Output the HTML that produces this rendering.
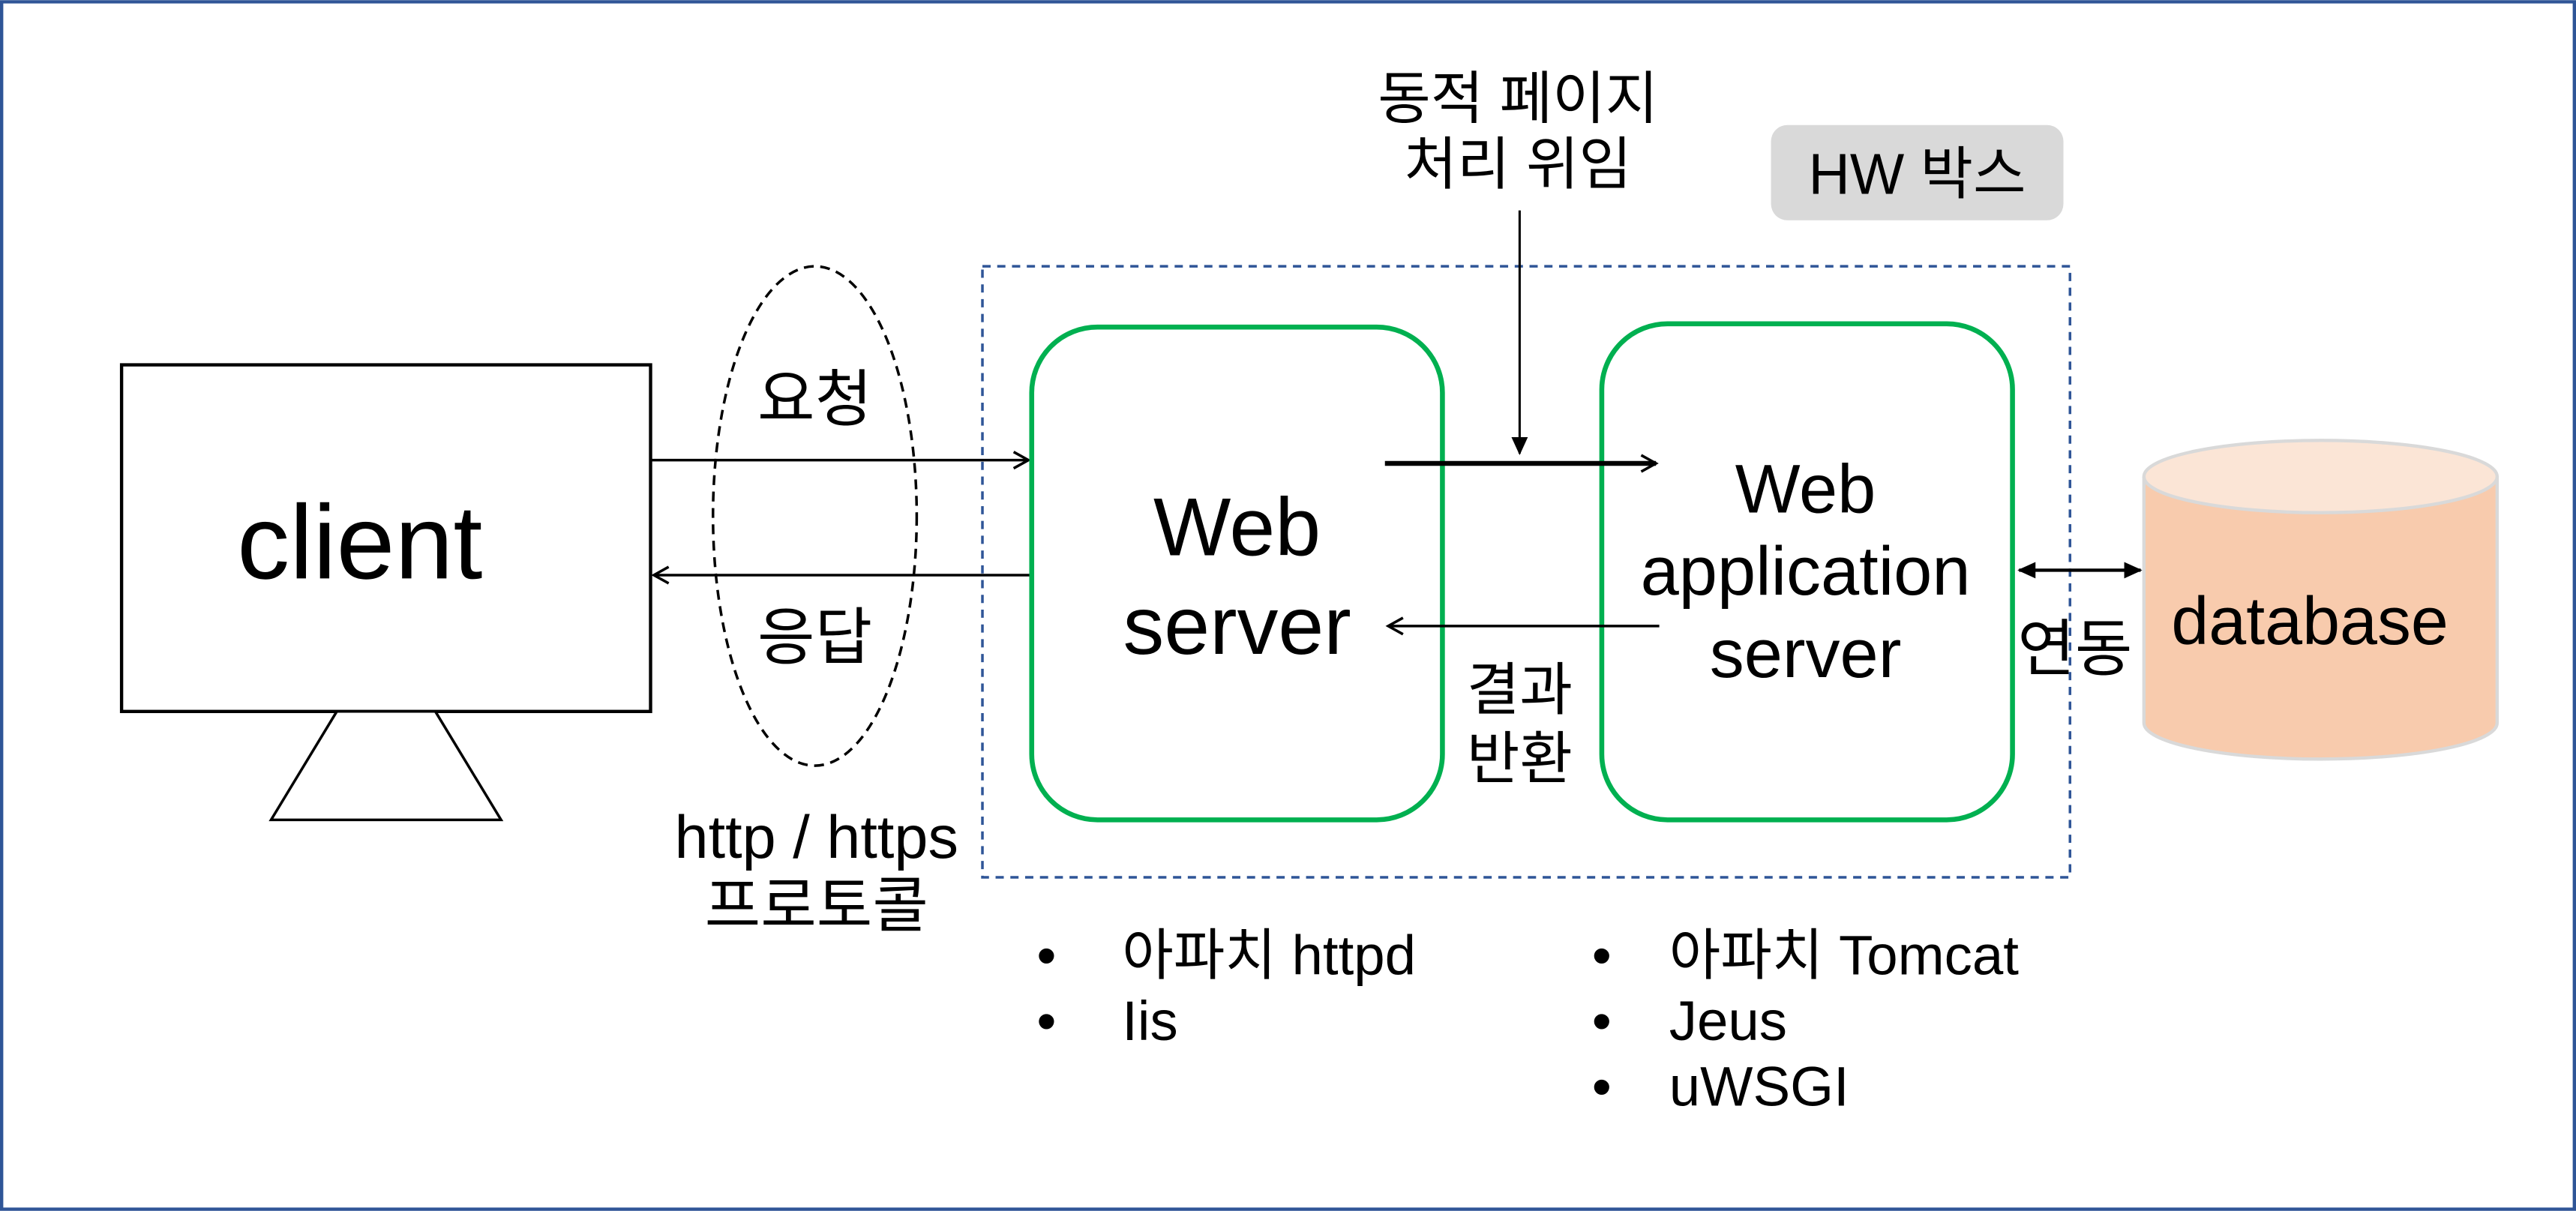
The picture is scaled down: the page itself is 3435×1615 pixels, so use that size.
<!DOCTYPE html>
<html><head><meta charset="utf-8"><style>
html,body{margin:0;padding:0;background:#fff;}
svg{display:block;}
text{font-family:"Liberation Sans","Noto Sans CJK KR",sans-serif;fill:#000;}
</style></head><body>
<svg width="3435" height="1615" viewBox="0 0 1568 737" xmlns="http://www.w3.org/2000/svg">
<defs>
<marker id="a" markerWidth="12" markerHeight="12" refX="10" refY="6" orient="auto" markerUnits="userSpaceOnUse">
<path d="M1,1 L10,6 L1,11" fill="none" stroke="#000" stroke-width="1.6"/></marker>
<marker id="f" markerWidth="12" markerHeight="12" refX="10" refY="6" orient="auto" markerUnits="userSpaceOnUse">
<path d="M0,1 L11,6 L0,11 Z" fill="#000"/></marker>
<marker id="fs" markerWidth="12" markerHeight="12" refX="1" refY="6" orient="auto" markerUnits="userSpaceOnUse">
<path d="M11,1 L0,6 L11,11 Z" fill="#000"/></marker>
</defs>
<rect x="1" y="1" width="1566" height="735" fill="#fff" stroke="#2F5597" stroke-width="2"/>
<rect x="74" y="222" width="322" height="211" fill="#fff" stroke="#000" stroke-width="2"/>
<polygon points="205,433 165,499 305,499 265,433" fill="#fff" stroke="#000" stroke-width="1.6"/>
<text x="219" y="352" font-size="64" text-anchor="middle">client</text>
<ellipse cx="496" cy="314" rx="62" ry="152" fill="none" stroke="#000" stroke-width="1.6" stroke-dasharray="6,4"/>
<line x1="396" y1="280" x2="626" y2="280" stroke="#000" stroke-width="1.6" marker-end="url(#a)"/>
<line x1="628" y1="350" x2="398" y2="350" stroke="#000" stroke-width="1.6" marker-end="url(#a)"/>
<text x="496" y="256" font-size="38" text-anchor="middle">요청</text>
<text x="496" y="401" font-size="38" text-anchor="middle">응답</text>
<text x="497" y="522" font-size="37" text-anchor="middle">http / https</text>
<text x="497" y="564" font-size="37" text-anchor="middle">프로토콜</text>
<rect x="598" y="162" width="662" height="372" fill="none" stroke="#2F5597" stroke-width="1.6" stroke-dasharray="5,4"/>
<rect x="1078" y="76" width="178" height="58" rx="10" fill="#D9D9D9"/>
<text x="1167" y="118" font-size="35" text-anchor="middle">HW 박스</text>
<rect x="628" y="199" width="250" height="300" rx="40" fill="#fff" stroke="#00B050" stroke-width="3"/>
<text x="753" y="338" font-size="50" text-anchor="middle">Web</text>
<text x="753" y="398" font-size="50" text-anchor="middle">server</text>
<rect x="975" y="197" width="250" height="302" rx="40" fill="#fff" stroke="#00B050" stroke-width="3"/>
<text x="1099" y="312" font-size="42" text-anchor="middle">Web</text>
<text x="1099" y="362" font-size="42" text-anchor="middle">application</text>
<text x="1099" y="412" font-size="42" text-anchor="middle">server</text>
<line x1="843" y1="282" x2="1008" y2="282" stroke="#000" stroke-width="3" marker-end="url(#a)"/>
<line x1="925" y1="128" x2="925" y2="276" stroke="#000" stroke-width="1.4" marker-end="url(#f)"/>
<text x="924" y="72" font-size="35" text-anchor="middle">동적 페이지</text>
<text x="924" y="112" font-size="35" text-anchor="middle">처리 위임</text>
<line x1="1010" y1="381" x2="845" y2="381" stroke="#000" stroke-width="1.6" marker-end="url(#a)"/>
<text x="925" y="432" font-size="35" text-anchor="middle">결과</text>
<text x="925" y="474" font-size="35" text-anchor="middle">반환</text>
<line x1="1229" y1="347" x2="1303" y2="347" stroke="#000" stroke-width="2" marker-start="url(#fs)" marker-end="url(#f)"/>
<text x="1263" y="408" font-size="38" text-anchor="middle">연동</text>
<path d="M1305,290 L1305,440 A107.5,22 0 0 0 1520,440 L1520,290" fill="#F8CBAD" stroke="#D9D9D9" stroke-width="2"/>
<ellipse cx="1412.5" cy="290" rx="107.5" ry="22" fill="#FBE5D6" stroke="#D9D9D9" stroke-width="2"/>
<text x="1406" y="392" font-size="41" text-anchor="middle">database</text>
<g font-size="34">
<text x="631" y="593">•</text><text x="683" y="593">아파치 httpd</text>
<text x="631" y="633">•</text><text x="683" y="633">Iis</text>
<text x="969" y="593">•</text><text x="1016" y="593">아파치 Tomcat</text>
<text x="969" y="633">•</text><text x="1016" y="633">Jeus</text>
<text x="969" y="673">•</text><text x="1016" y="673">uWSGI</text>
</g>
</svg>
</body></html>
